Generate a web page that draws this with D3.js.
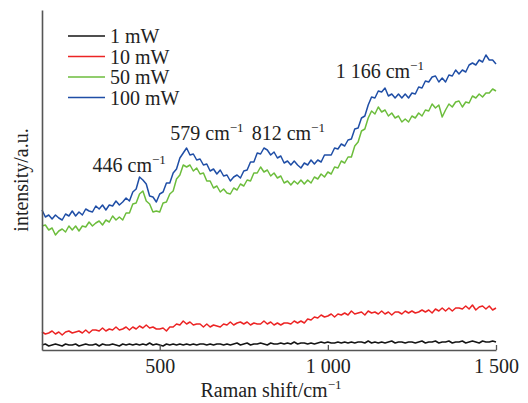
<!DOCTYPE html>
<html>
<head>
<meta charset="utf-8">
<script src="https://cdn.jsdelivr.net/npm/d3@7"></script>
<style>
  html, body { margin: 0; padding: 0; background: #fff; }
  svg { display: block; }
  svg text { font-family: "Liberation Serif", "Times New Roman", Times, "DejaVu Serif", serif !important; fill: #222; }
</style>
</head>
<body>
<svg id="chart" width="528" height="403"></svg>
<script>
// Raman shift sampled every 10 cm^-1 from 150 to 1500
const shiftStart = 150, shiftStep = 10;
const seriesNames = ["1 mW", "10 mW", "50 mW", "100 mW"];
const seriesColors = ["#151515", "#ec2424", "#6cbd3c", "#1f4ea6"];
const xTicks = [500, 1000, 1500];
const xTickLabels = ["500", "1 000", "1 500"];
const peakShifts = [446, 579, 812, 1166];
const peakLabels = ["446", "579", "812", "1 166"];

const p1mW = [
  5,6,4,5,6,5,4,6,5,5, 6,4,5,6,5,5,6,4,6,5, 5,6,5,4,6,5,6,5,6,5,
  6,5,7,5,6,5,4,6,5,6, 5,6,5,6,5,6,5,6,6,5, 6,5,6,6,5,6,5,6,7,5,
  6,7,5,6,6,7,6,5,7,6, 6,7,6,7,6,8,6,7,7,6, 7,6,7,8,7,8,7,7,8,7,
  8,7,8,7,8,8,7,9,7,8, 7,8,7,8,9,7,8,8,7,8, 8,7,8,9,7,8,8,9,7,8,
  8,9,7,8,8,9,7,8,9,8, 7,9,8,8,9,8
];
const p10mW = [
  18,16,17,19,16,18,15,18,19,17, 18,19,17,20,17,20,20,19,22,19,
  21,20,23,20,21,23,20,23,21,24, 22,25,22,23,21,21,22,19,23,23,
  26,25,29,26,28,25,26,26,23,26, 23,25,24,23,26,25,28,25,27,28,
  26,28,25,27,26,26,29,26,28,25, 27,25,27,27,26,29,27,29,27,31,
  30,33,32,35,33,34,36,33,36,35, 37,35,39,36,37,38,35,39,37,38,
  36,39,36,38,35,38,38,36,39,37, 39,37,38,40,38,40,37,41,39,42,
  39,42,39,42,42,41,44,41,45,40, 43,44,41,44,40,42
];
const p50mW = [
  124,125,120,122,115,119,121,118,124,120, 124,119,124,123,128,124,127,129,125,130,
  128,134,130,133,130,137,137,146,147,156, 159,149,146,138,139,138,147,148,156,159,
  171,175,185,183,185,179,182,176,177,169, 169,162,164,158,161,157,156,162,160,166,
  164,170,169,177,177,183,178,180,174,177, 172,174,167,169,165,169,166,170,166,170,
  167,173,171,176,173,178,176,183,182,189, 187,193,193,204,208,219,221,232,239,236,
  243,238,240,234,237,232,234,228,231,228, 234,232,237,234,240,239,246,242,245,233,
  240,246,243,248,249,243,248,247,254,252, 256,253,257,257,261,259
];
const p100mW = [
  140,133,135,131,135,132,130,136,134,139, 134,138,135,141,139,138,144,141,145,140,
  145,144,149,145,148,152,149,158,161,173, 170,166,154,153,148,156,158,167,167,177,
  181,192,197,202,195,196,190,191,185,186, 179,181,176,180,174,175,169,173,175,172,
  179,180,188,188,197,196,202,200,195,198, 192,194,187,189,185,189,185,182,187,185,
  190,186,190,188,195,195,195,202,201,206, 204,210,211,221,222,232,234,245,253,252,
  259,258,262,254,256,252,256,252,256,252, 257,256,263,262,269,268,273,274,268,272,
  268,275,274,280,276,280,278,285,287,285, 290,288,295,290,290,286
];
const seriesValues = [p1mW, p10mW, p50mW, p100mW];

const svg = d3.select("#chart");
const mLeft = 42, mRight = 496, mTop = 10, mBottom = 350;

const x = d3.scaleLinear().domain([150, 1500]).range([mLeft, mRight]);
const y = d3.scaleLinear().domain([0, 340]).range([mBottom, mTop]);

// series lines
const line = d3.line()
  .x((d, i) => x(shiftStart + i * shiftStep))
  .y(d => y(d));

seriesValues.forEach((vals, k) => {
  svg.append("path")
    .datum(vals)
    .attr("d", line)
    .attr("fill", "none")
    .attr("stroke", seriesColors[k])
    .attr("stroke-width", 1.5)
    .attr("stroke-linejoin", "round");
});

// x axis with inward ticks
const xAxis = d3.axisBottom(x)
  .tickValues(xTicks)
  .tickSizeInner(-5)
  .tickSizeOuter(0)
  .tickPadding(9)
  .tickFormat((d, i) => xTickLabels[i]);

const gx = svg.append("g").attr("transform", `translate(0,${mBottom})`).call(xAxis);
gx.attr("font-family", null);
gx.select(".domain").attr("stroke", "#555").attr("stroke-width", 1.6);
gx.selectAll(".tick line").attr("stroke", "#555").attr("stroke-width", 1.3);
gx.selectAll(".tick text")
  .attr("font-size", 20)
  .attr("fill", "#222");

// y axis (no ticks)
const yAxis = d3.axisLeft(y).tickValues([]).tickSizeOuter(0);
const gy = svg.append("g").attr("transform", `translate(${mLeft},0)`).call(yAxis);
gy.select(".domain").attr("stroke", "#555").attr("stroke-width", 1.6);

// axis titles
const xt = svg.append("text")
  .attr("x", (mLeft + mRight) / 2 + 2)
  .attr("y", 397)
  .attr("text-anchor", "middle")
  .attr("font-size", 20);
xt.append("tspan").text("Raman shift/cm");
xt.append("tspan").attr("font-size", 13).attr("dy", -8).text("\u22121");

svg.append("text")
  .attr("transform", `translate(28,${(mTop + mBottom) / 2}) rotate(-90)`)
  .attr("text-anchor", "middle")
  .attr("font-size", 20)
  .text("intensity/a.u.");

// legend
const lg = svg.append("g");
seriesNames.forEach((name, k) => {
  const yy = 36 + k * 20.5;
  lg.append("line")
    .attr("x1", 68).attr("x2", 105)
    .attr("y1", yy).attr("y2", yy)
    .attr("stroke", seriesColors[k]).attr("stroke-width", 1.5);
  lg.append("text")
    .attr("x", 110).attr("y", yy + 7)
    .attr("font-size", 20)
    .text(name);
});

// peak annotations
const annoPos = [
  { dx: -49, by: 172 },
  { dx: -16, by: 140 },
  { dx: -13, by: 140 },
  { dx: -48, by: 78 }
];
peakShifts.forEach((p, k) => {
  const t = svg.append("text")
    .attr("x", x(p) + annoPos[k].dx)
    .attr("y", annoPos[k].by)
    .attr("font-size", 20);
  t.append("tspan").text(peakLabels[k] + " cm");
  t.append("tspan").attr("font-size", 13).attr("dy", -8).text("\u22121");
});
</script>
</body>
</html>
